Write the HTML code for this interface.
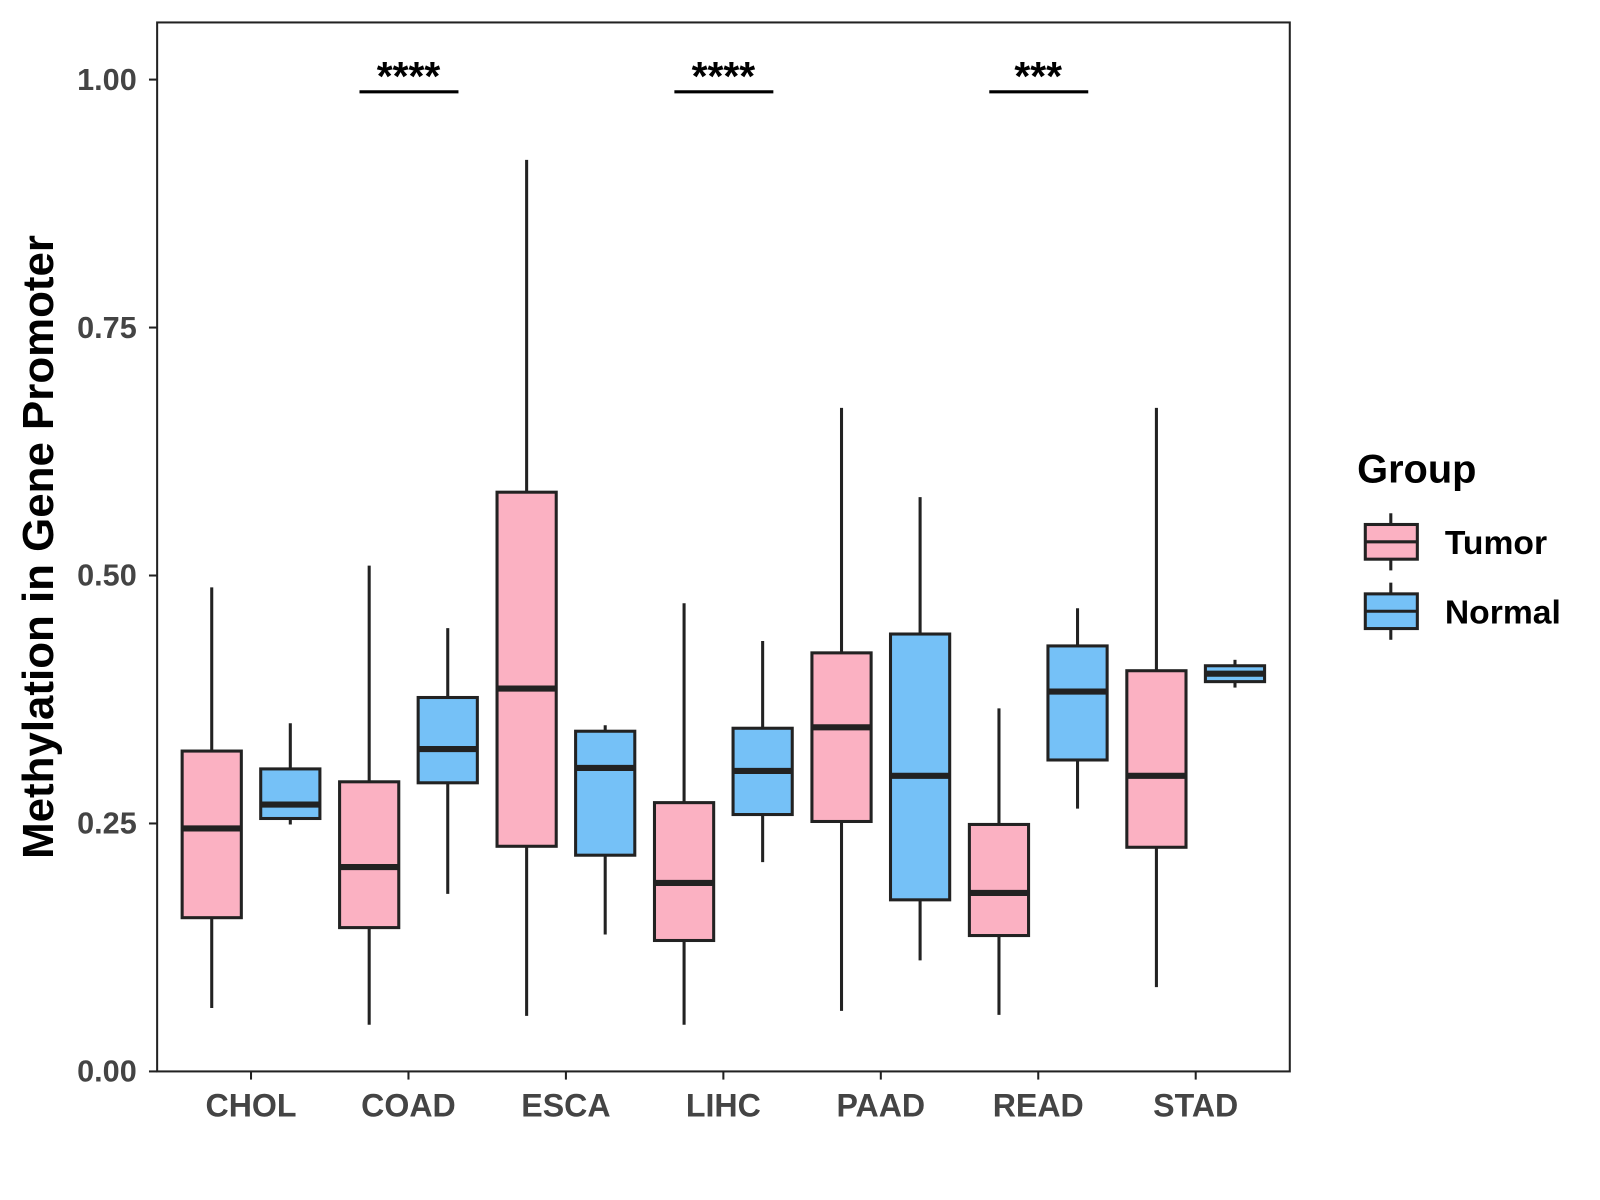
<!DOCTYPE html>
<html><head><meta charset="utf-8"><style>
body{margin:0;background:#fff;}
svg{display:block;font-family:"Liberation Sans",Arial,sans-serif;}
</style></head><body>
<svg id="chart" width="1600" height="1200">
<g transform="scale(1.0204)">
<rect x="154" y="22" width="1110" height="1028" fill="#fff" stroke="#222" stroke-width="2"/>
<g id="marks"></g>
<text transform="translate(52,536) rotate(-90)" text-anchor="middle" font-size="43" font-weight="bold" fill="#000">Methylation in Gene Promoter</text>
<g>
<text x="1330" y="473" font-size="39" font-weight="bold">Group</text>
<g>
<line x1="1363" y1="503" x2="1363" y2="559" stroke="#222" stroke-width="3"/>
<rect x="1338" y="514" width="51" height="34" fill="#FBB1C2" stroke="#222" stroke-width="3"/>
<line x1="1338" y1="531" x2="1389" y2="531" stroke="#222" stroke-width="3"/>
<text x="1416" y="543" font-size="33" font-weight="bold">Tumor</text></g>
<g>
<line x1="1363" y1="571" x2="1363" y2="627" stroke="#222" stroke-width="3"/>
<rect x="1338" y="582" width="51" height="34" fill="#75C1F7" stroke="#222" stroke-width="3"/>
<line x1="1338" y1="599" x2="1389" y2="599" stroke="#222" stroke-width="3"/>
<text x="1416" y="611" font-size="33" font-weight="bold">Normal</text></g>
</g>
</g>
</svg>
<script>
const categories=["CHOL","COAD","ESCA","LIHC","PAAD","READ","STAD"];
const groups=["Tumor","Normal"];
// [low, q1, median, q3, high]
const tumorStats=[[0.064,0.155,0.245,0.323,0.488],[0.047,0.145,0.206,0.292,0.510],[0.056,0.227,0.386,0.584,0.919],[0.047,0.132,0.190,0.271,0.472],[0.061,0.252,0.347,0.422,0.669],[0.057,0.137,0.180,0.249,0.366],[0.085,0.226,0.298,0.404,0.669]];
const normalStats=[[0.249,0.255,0.269,0.305,0.351],[0.179,0.291,0.325,0.377,0.447],[0.138,0.218,0.306,0.343,0.349],[0.211,0.259,0.303,0.346,0.434],[0.112,0.173,0.298,0.441,0.579],[0.265,0.314,0.383,0.429,0.467],[0.387,0.393,0.401,0.409,0.415]];
const yTicks=[0,0.25,0.5,0.75,1.0];
const yTickLabels=["0.00","0.25","0.50","0.75","1.00"];
const sigCats=["COAD","LIHC","READ"];
const sigLabels=["****","****","***"];
const colors=["#FBB1C2","#75C1F7"];
const NS="http://www.w3.org/2000/svg";
const g=document.getElementById("marks");
const y=v=>1050-v*972;
const xC=i=>246+i*154.3;
function mk(t,a){const e=document.createElementNS(NS,t);for(const k in a)e.setAttribute(k,a[k]);g.appendChild(e);return e;}
yTicks.forEach((v,i)=>{
 const l=mk("line",{x1:146,x2:154,y1:y(v),y2:y(v),stroke:"#222","stroke-width":2});
 
 
 const t=mk("text",{x:134,y:y(v)+10,"text-anchor":"end","font-size":30,"font-weight":"bold",fill:"#444"});
 t.textContent=yTickLabels[i];
 
 
});
categories.forEach((c,i)=>{
 const l=mk("line",{x1:xC(i),x2:xC(i),y1:1050,y2:1058,stroke:"#222","stroke-width":2});
 
 
 const t=mk("text",{x:xC(i),y:1094,"text-anchor":"middle","font-size":31.5,"font-weight":"bold",fill:"#444"});
 t.textContent=c;
 
 
 [tumorStats[i],normalStats[i]].forEach((s,j)=>{
  const cx=xC(i)+(j?38.5:-38.5), w=58;
  const wl=mk("line",{x1:cx,x2:cx,y1:y(s[4]),y2:y(s[0]),stroke:"#222","stroke-width":3});
  
  
  const r=mk("rect",{x:cx-w/2,y:y(s[3]),width:w,height:y(s[1])-y(s[3]),fill:colors[j],stroke:"#222","stroke-width":3});
  
  
  const m=mk("line",{x1:cx-w/2,x2:cx+w/2,y1:y(s[2]),y2:y(s[2]),stroke:"#222","stroke-width":6});
  
  
 });
});
sigCats.forEach((c,k)=>{
 const i=categories.indexOf(c);
 const l=mk("line",{x1:xC(i)-48,x2:xC(i)+49,y1:90,y2:90,stroke:"#000","stroke-width":3});
 
 
 const t=mk("text",{x:xC(i),y:88,"text-anchor":"middle","font-size":40,"font-weight":"bold",fill:"#000"});
 t.textContent=sigLabels[k];
 
 
});
</script>
</body></html>
